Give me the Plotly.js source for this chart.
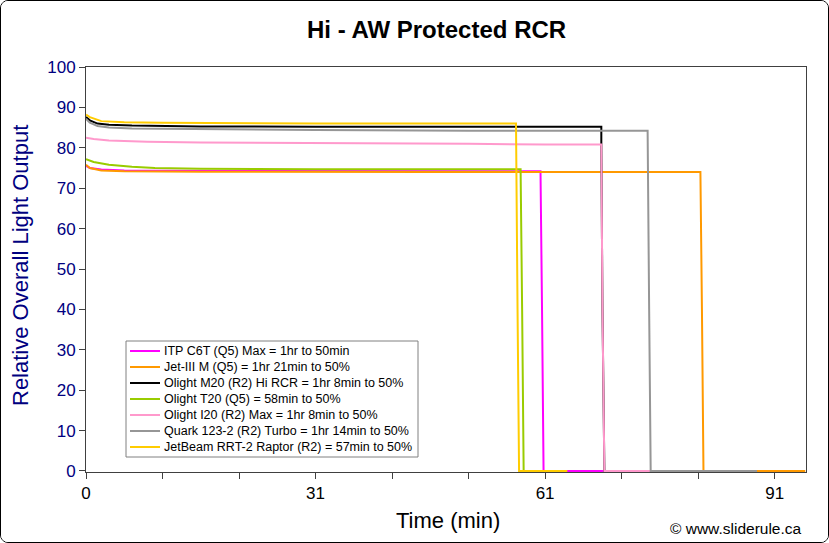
<!DOCTYPE html>
<html>
<head>
<meta charset="utf-8">
<script src="https://cdn.plot.ly/plotly-3.0.1.min.js"></script>
<style>
html,body{margin:0;padding:0;background:#fff;}
#frame{width:829px;height:543px;box-sizing:border-box;border:1px solid #000;border-radius:8px;overflow:hidden;}
#chart{width:827px;height:541px;}
</style>
</head>
<body>
<div id="frame"><div id="chart"></div></div>
<script>
// Names of the lights (legend)
const seriesNames = [
  "ITP C6T (Q5) Max = 1hr to 50min",
  "Jet-III M (Q5) = 1hr 21min to 50%",
  "Olight M20 (R2) Hi RCR = 1hr 8min to 50%",
  "Olight T20 (Q5) = 58min to 50%",
  "Olight I20 (R2) Max = 1hr 8min to 50%",
  "Quark 123-2 (R2) Turbo = 1hr 14min to 50%",
  "JetBeam RRT-2 Raptor (R2) = 57min to 50%"
];
const seriesColors = ["#FF00FF", "#FF9900", "#000000", "#99CC00", "#FF99CC", "#969696", "#FFCC00"];

// Time positions (category axis units) and relative output values
const itpX   = [0, 0.5, 2, 5, 10, 20, 30, 40, 50, 59.4, 59.6, 59.8, 70];
const itpY   = [75.5, 75.0, 74.6, 74.4, 74.3, 74.3, 74.3, 74.2, 74.2, 74.2, 40, 0, 0];
const jet3X  = [0, 0.5, 2, 5, 15, 30, 45, 60, 70, 80.3, 80.5, 80.7, 94];
const jet3Y  = [75.8, 75.0, 74.4, 74.2, 74.1, 74.0, 74.0, 74.0, 74.0, 74.0, 40, 0, 0];
const m20X   = [0, 0.5, 1.5, 3, 6, 15, 30, 50, 67.35, 67.35, 67.5, 67.75, 72];
const m20Y   = [87.6, 86.8, 86.0, 85.7, 85.5, 85.3, 85.2, 85.2, 85.2, 80.8, 40, 0, 0];
const t20X   = [0, 1, 3, 6, 9, 15, 30, 50, 56.8, 57.0, 57.2, 62];
const t20Y   = [77.2, 76.5, 75.8, 75.3, 75.0, 74.8, 74.7, 74.7, 74.7, 40, 0, 0];
const i20X   = [0, 1, 3, 8, 15, 30, 40, 50, 60, 67.35, 67.5, 67.75, 76];
const i20Y   = [82.5, 82.2, 81.8, 81.5, 81.3, 81.2, 81.0, 81.0, 80.8, 80.8, 40, 0, 0];
const quarkX = [0, 0.5, 1.5, 3, 6, 15, 30, 50, 73.4, 73.6, 73.8, 87.7];
const quarkY = [87.2, 86.2, 85.4, 85.0, 84.8, 84.6, 84.4, 84.2, 84.2, 40, 0, 0];
const rrtX   = [0, 0.5, 2, 5, 10, 30, 50, 56.2, 56.4, 56.6, 62.9];
const rrtY   = [88.2, 87.6, 86.6, 86.3, 86.2, 86.0, 86.0, 86.0, 40, 0, 0];

const xs = [itpX, jet3X, m20X, t20X, i20X, quarkX, rrtX];
const ys = [itpY, jet3Y, m20Y, t20Y, i20Y, quarkY, rrtY];

// Axis ticks
const xTickVals = [0, 10, 20, 30, 40, 50, 60, 70, 80, 90];
const xTickText = ["0", "", "", "31", "", "", "61", "", "", "91"];
const yTickVals = [0, 10, 20, 30, 40, 50, 60, 70, 80, 90, 100];

const traces = seriesNames.map((n, i) => ({
  type: "scatter", mode: "lines", name: n,
  x: xs[i], y: ys[i],
  line: {color: seriesColors[i], width: 2},
  hoverinfo: "skip", showlegend: false
}));

const F = "Arial, 'Liberation Sans', sans-serif";
// plot area geometry helpers (pixels -> paper)
const PL = 86, PW = 720, PB = 472, PH = 405;
const px = v => (v - PL) / PW;
const py = v => (PB - v) / PH;

const shapes = [
  {type: "rect", xref: "paper", yref: "paper", x0: px(126), x1: px(418), y0: py(457), y1: py(341),
   line: {color: "#808080", width: 1}, fillcolor: "#fff", layer: "above"}
];
const annotations = [
  {text: "<b>Hi - AW Protected RCR</b>", xref: "paper", yref: "paper", x: px(436), y: py(30),
   xanchor: "center", yanchor: "middle", showarrow: false, font: {family: F, size: 24, color: "#000"}},
  {text: "Relative Overall Light Output", xref: "paper", yref: "paper", x: px(20), y: py(266),
   xanchor: "center", yanchor: "middle", textangle: -90, showarrow: false,
   font: {family: F, size: 22, color: "#000080"}},
  {text: "Time (min)", xref: "paper", yref: "paper", x: px(448), y: py(520),
   xanchor: "center", yanchor: "middle", showarrow: false, font: {family: F, size: 22, color: "#000"}},
  {text: "© www.sliderule.ca", xref: "paper", yref: "paper", x: px(804), y: py(528),
   xanchor: "right", yanchor: "middle", showarrow: false, font: {family: F, size: 15.5, color: "#000"}}
];
seriesNames.forEach((n, i) => {
  const rowY = 351 + i * 16;
  shapes.push({type: "line", xref: "paper", yref: "paper", x0: px(130), x1: px(160), y0: py(rowY), y1: py(rowY),
    line: {color: seriesColors[i], width: 2}, layer: "above"});
  annotations.push({text: n, xref: "paper", yref: "paper", x: px(162), y: py(rowY),
    xanchor: "left", yanchor: "middle", showarrow: false, font: {family: F, size: 12.5, color: "#000"}});
});

const layout = {
  width: 827, height: 541,
  margin: {l: 85, r: 22, t: 66, b: 70},
  paper_bgcolor: "#fff", plot_bgcolor: "#fff",
  font: {family: F, size: 17, color: "#000"},
  showlegend: false,
  xaxis: {
    range: [0, 94.1], tickmode: "array", tickvals: xTickVals, ticktext: xTickText,
    ticks: "outside", ticklen: 6, tickcolor: "#404040", showgrid: false, zeroline: false,
    showline: true, linecolor: "#404040", linewidth: 1, mirror: true,
    tickfont: {family: F, size: 17, color: "#000"}, layer: "below traces"
  },
  yaxis: {
    range: [-0.25, 100], tickmode: "array", tickvals: yTickVals,
    ticks: "outside", ticklen: 6, tickcolor: "#404040", showgrid: false, zeroline: false,
    showline: true, linecolor: "#404040", linewidth: 1, mirror: true,
    tickfont: {family: F, size: 17, color: "#000080"}, layer: "below traces"
  },
  shapes: shapes,
  annotations: annotations
};

Plotly.newPlot("chart", traces, layout, {displayModeBar: false, staticPlot: true});
</script>
</body>
</html>
